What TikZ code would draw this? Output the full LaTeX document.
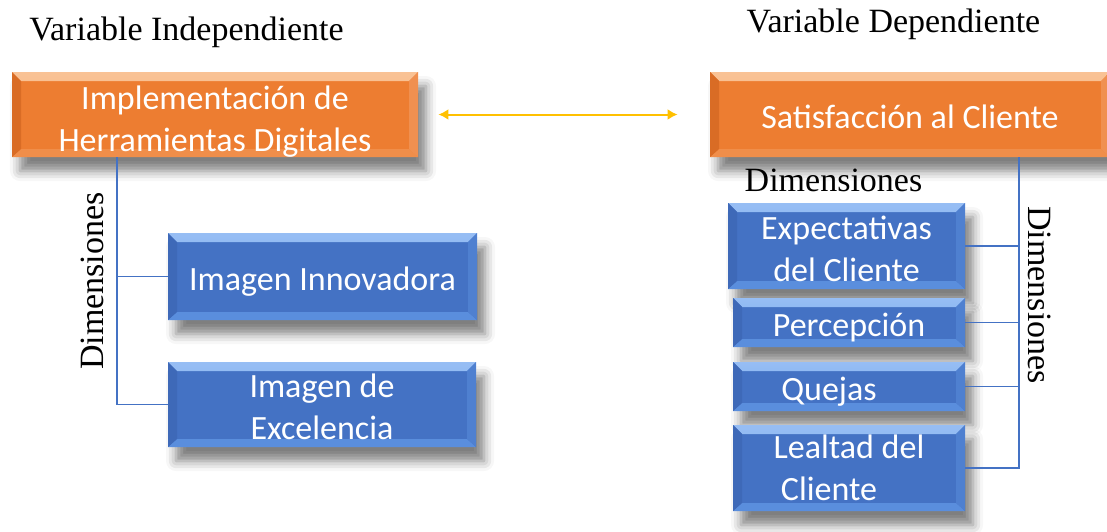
\documentclass[tikz,border=0pt]{standalone}
\usepackage{fontspec}
\setmainfont{Liberation Serif}
\newfontfamily\boxfont{Carlito}
\usetikzlibrary{calc}
\usetikzlibrary{positioning}
\usetikzlibrary{arrows.meta}
\usetikzlibrary{shadows.blur}
\definecolor{orface}{HTML}{ED7D31}
\definecolor{ortop}{HTML}{F7AE72}
\definecolor{orbot}{HTML}{F08E4A}
\definecolor{orleft}{HTML}{D96C25}
\definecolor{orright}{HTML}{F09050}
\definecolor{blface}{HTML}{4472C4}
\definecolor{bltop}{HTML}{74A8F0}
\definecolor{blbot}{HTML}{5A8EDD}
\definecolor{blleft}{HTML}{3E69B8}
\definecolor{blright}{HTML}{4F80D0}
\definecolor{linkgold}{HTML}{FFC000}
\tikzset{
  bevel/.style n args={4}{path picture={
    \fill[top color=#1!75!white, bottom color=#1] (path picture bounding box.north west) -- (path picture bounding box.north east)
      -- ($(path picture bounding box.north east)+(-4.5pt,-4.5pt)$) -- ($(path picture bounding box.north west)+(4.5pt,-4.5pt)$) -- cycle;
    \fill[#2] (path picture bounding box.south west) -- (path picture bounding box.south east)
      -- ($(path picture bounding box.south east)+(-4.5pt,4pt)$) -- ($(path picture bounding box.south west)+(4.5pt,4pt)$) -- cycle;
    \fill[#3] (path picture bounding box.north west) -- (path picture bounding box.south west)
      -- ($(path picture bounding box.south west)+(4.5pt,4pt)$) -- ($(path picture bounding box.north west)+(4.5pt,-4.5pt)$) -- cycle;
    \fill[#4] (path picture bounding box.north east) -- (path picture bounding box.south east)
      -- ($(path picture bounding box.south east)+(-4.5pt,4pt)$) -- ($(path picture bounding box.north east)+(-4.5pt,-4.5pt)$) -- cycle;
  }},
}

\begin{document}
\begin{tikzpicture}[x=0.5pt, y=-0.5pt, >={Latex[length=5pt,width=5.5pt]}]
	\tikzstyle{var}=[rectangle, inner sep=0pt, text=white, align=center, text depth=0pt, execute at begin node={\rule{0pt}{14pt}}, font=\boxfont\fontsize{17}{21}\selectfont, blur shadow={shadow xshift=4pt, shadow yshift=-7pt, shadow blur radius=5pt, shadow opacity=50}]
	\tikzstyle{vorange}=[var, fill=orface, bevel={ortop}{orbot}{orleft}{orright}]
	\tikzstyle{vblue}=[var, fill=blface, bevel={bltop}{blbot}{blleft}{blright}]
	\tikzstyle{lbl}=[inner sep=0pt, font=\fontsize{17}{20}\selectfont]
	\tikzstyle{dimline}=[draw=blface, line width=0.75pt]

	\path[use as bounding box, clip] (0,0) rectangle (1107,531);

	\node[vorange, minimum width=203pt, minimum height=42.5pt] (impl) at (215,114.5) {\rule{0pt}{16pt}Implementación de\\Herramientas Digitales};
	\node[vorange, minimum width=200pt, minimum height=42.5pt] (sat) at (910,114.5) {Satisfacción al Cliente};

	\node[vblue, minimum width=154.5pt, minimum height=43.5pt] (innov) at (322.5,276.5) {Imagen Innovadora};
	\node[vblue, minimum width=154pt, minimum height=42.5pt] (excel) at (322,404.5) {\rule{0pt}{14pt}Imagen de\\Excelencia};

	\node[vblue, minimum width=118.5pt, minimum height=43pt] (expect) at (846.5,246) {\rule{0pt}{14pt}Expectativas\\del Cliente};
	\node[vblue, minimum width=116pt, minimum height=24.5pt] (percep) at (849,322.5) {Percepción};
	\node[vblue, minimum width=116pt, minimum height=24.5pt] (quejas) at (849,386.5) {Quejas\hspace*{20pt}};
	\node[vblue, minimum width=116pt, minimum height=43pt] (leal) at (849,468) {Lealtad del\\Cliente\hspace*{20pt}};

	\node[lbl] (vind) at (186.5,32) {Variable Independiente};
	\node[lbl] (vdep) at (893.5,24) {Variable Dependiente};
	\node[lbl] (dimtop) at (833.5,180) {Dimensiones};
	\node[lbl, rotate=90] (diml) at (92,281) {Dimensiones};
	\node[lbl, rotate=-90] (dimr) at (1040,295) {Dimensiones};

	\coordinate[right=10pt of impl.east] (al);
	\coordinate[left=16pt of sat.west] (ar);
	\draw[<->, draw=linkgold, line width=1pt] (al) -- (ar);

	\coordinate (lbus) at (117,0);
	\draw[dimline] (impl.south -| lbus) |- (excel.west);
	\draw[dimline] (lbus |- innov.west) -- (innov.west);

	\coordinate (rbus) at (1019,0);
	\draw[dimline] (sat.south -| rbus) |- (leal.east);
	\foreach \n in {expect, percep, quejas}
		\draw[dimline] (\n.east) -- (\n.east -| rbus);
\end{tikzpicture}
\end{document}
